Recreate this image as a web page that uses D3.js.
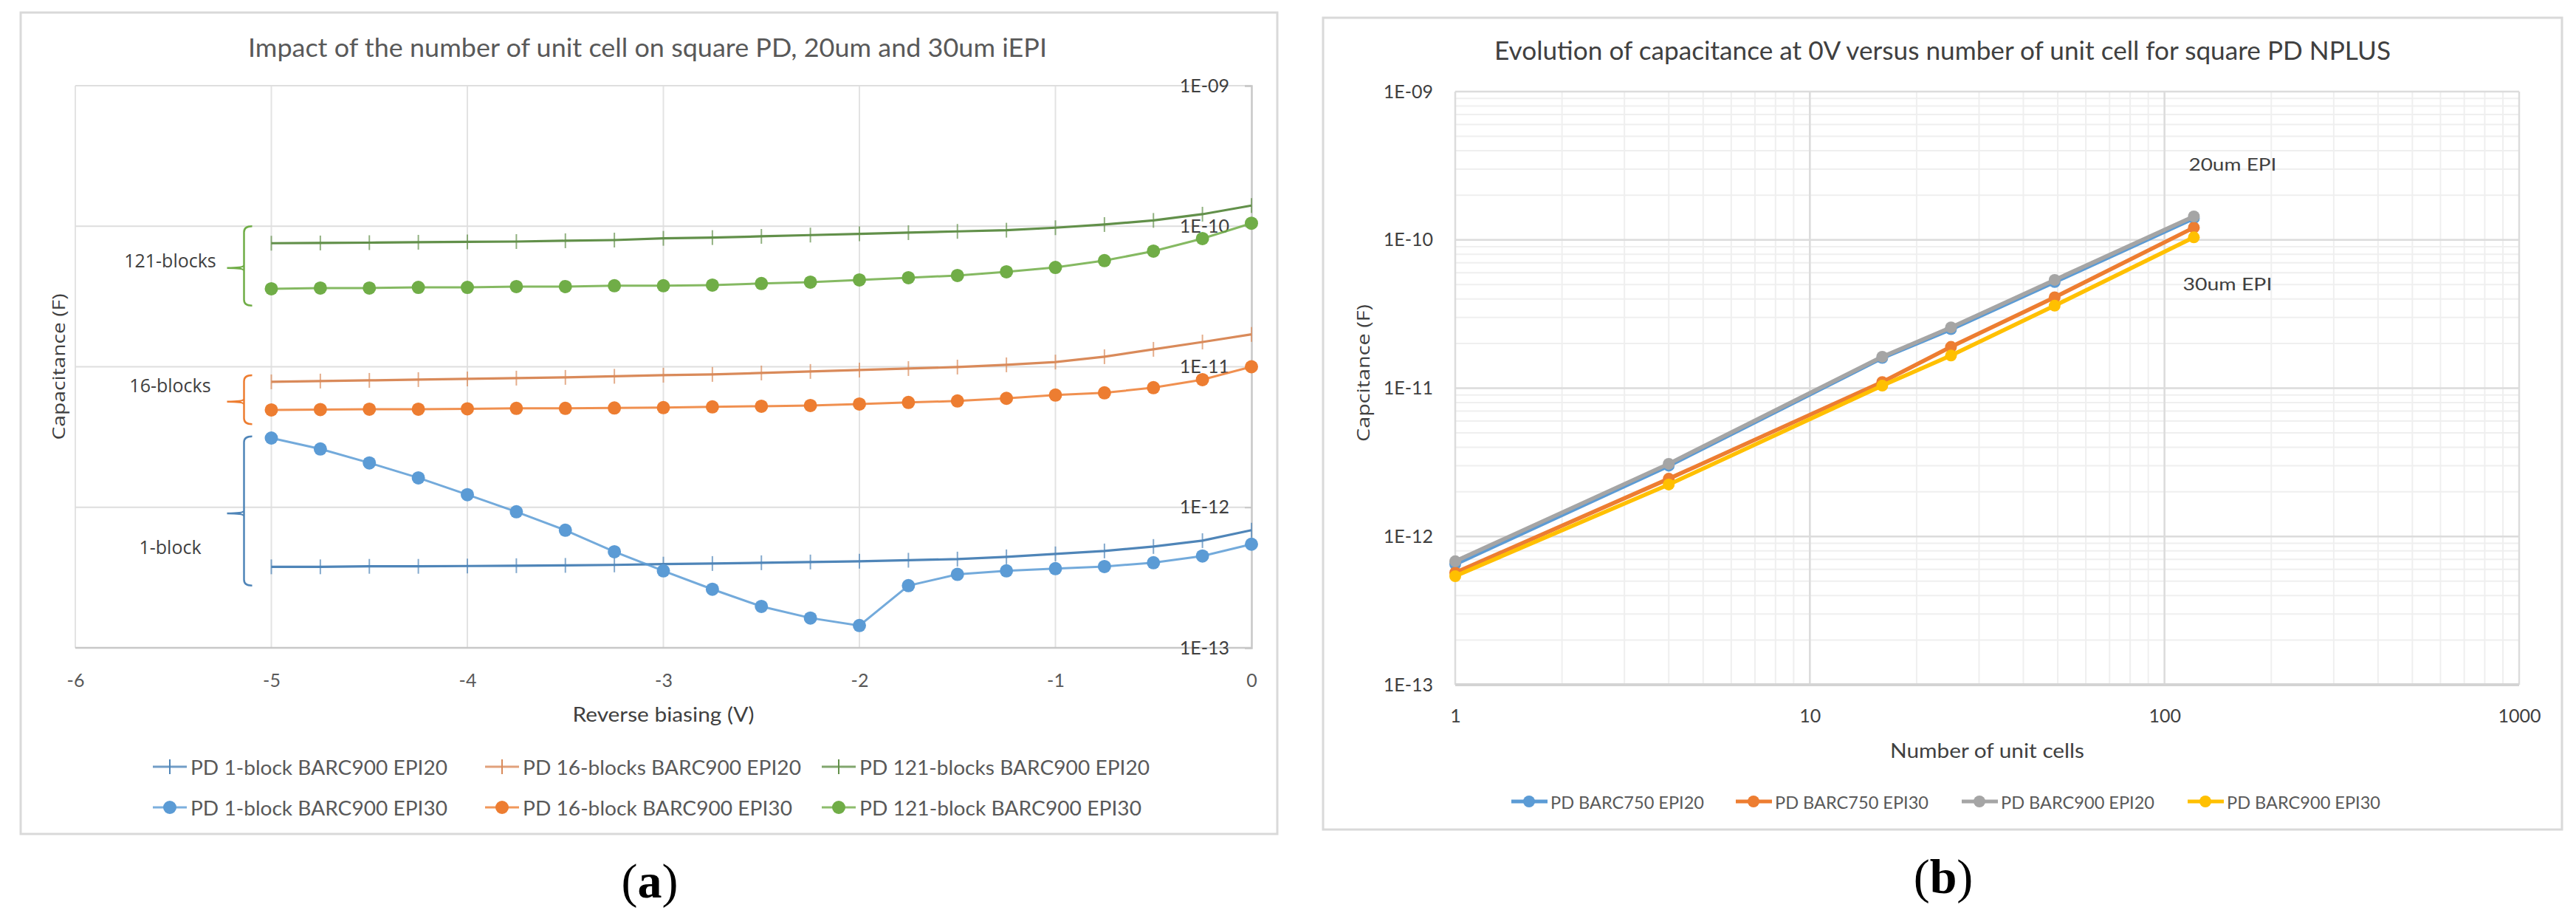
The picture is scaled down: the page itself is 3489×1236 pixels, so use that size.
<!DOCTYPE html>
<html>
<head>
<meta charset="utf-8">
<script src="https://cdn.jsdelivr.net/npm/d3@7"></script>
<style>
body { margin: 0; background: #fff; }
</style>
</head>
<body>
<script>
var width = 3489;
var height = 1236;

// ---- (a) capacitance versus reverse bias ----
var biasV = [-5, -4.75, -4.5, -4.25, -4, -3.75, -3.5, -3.25, -3, -2.75, -2.5,
             -2.25, -2, -1.75, -1.5, -1.25, -1, -0.75, -0.5, -0.25, 0];

var cap1Epi20 = [3.77e-13, 3.77e-13, 3.80e-13, 3.80e-13, 3.82e-13, 3.84e-13, 3.86e-13, 3.89e-13,
                 3.94e-13, 3.98e-13, 4.03e-13, 4.08e-13, 4.13e-13, 4.20e-13, 4.28e-13, 4.44e-13,
                 4.66e-13, 4.89e-13, 5.26e-13, 5.79e-13, 6.87e-13];
var cap1Epi30 = [3.11e-12, 2.60e-12, 2.07e-12, 1.62e-12, 1.23e-12, 9.29e-13, 6.87e-13, 4.83e-13,
                 3.53e-13, 2.61e-13, 1.97e-13, 1.63e-13, 1.44e-13, 2.77e-13, 3.33e-13, 3.53e-13,
                 3.66e-13, 3.79e-13, 4.03e-13, 4.50e-13, 5.46e-13];
var cap16Epi20 = [7.81e-12, 7.91e-12, 8.00e-12, 8.10e-12, 8.20e-12, 8.30e-12, 8.40e-12, 8.55e-12,
                  8.71e-12, 8.82e-12, 9.03e-12, 9.26e-12, 9.48e-12, 9.71e-12, 9.95e-12, 1.032e-11,
                  1.08e-11, 1.179e-11, 1.33e-11, 1.50e-11, 1.70e-11];
var cap16Epi30 = [4.93e-12, 4.96e-12, 4.99e-12, 4.99e-12, 5.02e-12, 5.06e-12, 5.06e-12, 5.09e-12,
                  5.12e-12, 5.18e-12, 5.24e-12, 5.30e-12, 5.43e-12, 5.57e-12, 5.71e-12, 5.96e-12,
                  6.29e-12, 6.52e-12, 7.10e-12, 8.10e-12, 1.0e-11];
var cap121Epi20 = [7.57e-11, 7.60e-11, 7.64e-11, 7.69e-11, 7.74e-11, 7.78e-11, 7.88e-11, 7.97e-11,
                   8.20e-11, 8.30e-11, 8.47e-11, 8.65e-11, 8.82e-11, 9.00e-11, 9.19e-11, 9.37e-11,
                   9.76e-11, 1.028e-10, 1.10e-10, 1.218e-10, 1.403e-10];
var cap121Epi30 = [3.59e-11, 3.63e-11, 3.63e-11, 3.67e-11, 3.67e-11, 3.72e-11, 3.72e-11, 3.77e-11,
                   3.77e-11, 3.81e-11, 3.91e-11, 4.00e-11, 4.15e-11, 4.30e-11, 4.46e-11, 4.74e-11,
                   5.09e-11, 5.69e-11, 6.65e-11, 8.17e-11, 1.05e-10];

var xTicksA = [-6, -5, -4, -3, -2, -1, 0];
var decadeTicks = [1e-13, 1e-12, 1e-11, 1e-10, 1e-9];

// brace annotations, in capacitance units
var braceNames = ["121-blocks", "16-blocks", "1-block"];
var braceTop = [1e-10, 8.7e-12, 3.2e-12];
var braceMid = [5.04e-11, 5.64e-12, 9.06e-13];
var braceBottom = [2.72e-11, 3.9e-12, 2.77e-13];
var braceLabelAt = [5.75e-11, 7.45e-12, 5.26e-13];

// ---- (b) capacitance at 0V versus number of unit cells ----
var unitCells = [1, 4, 16, 25, 49, 121];
var barc750Epi20 = [6.5e-13, 3.0e-12, 1.6e-11, 2.5e-11, 5.2e-11, 1.4e-10];
var barc750Epi30 = [5.7e-13, 2.45e-12, 1.1e-11, 1.9e-11, 4.1e-11, 1.21e-10];
var barc900Epi20 = [6.8e-13, 3.09e-12, 1.63e-11, 2.57e-11, 5.37e-11, 1.44e-10];
var barc900Epi30 = [5.4e-13, 2.24e-12, 1.04e-11, 1.66e-11, 3.6e-11, 1.04e-10];
var xTicksB = [1, 10, 100, 1000];

var blue = "#5b9bd5", orange = "#ed7d31", gray = "#a5a5a5", yellow = "#ffc000", green = "#70ad47";

var seriesA = [
    {name: "PD 1-block BARC900 EPI20", values: cap1Epi20, color: "#4f85b8", dots: false},
    {name: "PD 16-blocks BARC900 EPI20", values: cap16Epi20, color: "#d98a5a", dots: false},
    {name: "PD 121-blocks BARC900 EPI20", values: cap121Epi20, color: "#62904a", dots: false},
    {name: "PD 1-block BARC900 EPI30", values: cap1Epi30, color: blue, dots: true},
    {name: "PD 16-block BARC900 EPI30", values: cap16Epi30, color: orange, dots: true},
    {name: "PD 121-block BARC900 EPI30", values: cap121Epi30, color: green, dots: true}
];
var braceColors = [green, orange, "#4f85b8"];

var seriesB = [
    {name: "PD BARC750 EPI20", values: barc750Epi20, color: blue},
    {name: "PD BARC750 EPI30", values: barc750Epi30, color: orange},
    {name: "PD BARC900 EPI20", values: barc900Epi20, color: gray},
    {name: "PD BARC900 EPI30", values: barc900Epi30, color: yellow}
];

function sci(d) {
    var e = Math.round(Math.log10(d));
    return "1E" + (e < 0 ? "-" : "+") + String(Math.abs(e)).padStart(2, "0");
}

function fit(sel, w) {
    return sel.attr("textLength", w).attr("lengthAdjust", "spacingAndGlyphs");
}

var svg = d3.select("body")
    .append("svg")
    .attr("width", width)
    .attr("height", height)
    .attr("font-family", "Lato, sans-serif");

svg.append("rect").attr("width", width).attr("height", height).attr("fill", "#fff");

// chart frames
svg.append("rect").attr("x", 28).attr("y", 17).attr("width", 1702).attr("height", 1112)
    .attr("fill", "#fff").attr("stroke", "#d9d9d9").attr("stroke-width", 3);
svg.append("rect").attr("x", 1792).attr("y", 24).attr("width", 1678).attr("height", 1099)
    .attr("fill", "#fff").attr("stroke", "#d9d9d9").attr("stroke-width", 3);

// ================= chart (a) =================
var xA = d3.scaleLinear().domain([-6, 0]).range([102, 1695]);
var yA = d3.scaleLog().domain([1e-13, 1e-9]).range([877, 116]);

var gA = svg.append("g");

gA.append("g").selectAll("line")
    .data(xTicksA.slice(0, -1))
    .enter().append("line")
    .attr("x1", function(d) { return xA(d); })
    .attr("x2", function(d) { return xA(d); })
    .attr("y1", yA(1e-9)).attr("y2", yA(1e-13))
    .attr("stroke", "#e3e3e3").attr("stroke-width", 2);

gA.append("g").selectAll("line")
    .data(decadeTicks.slice(1))
    .enter().append("line")
    .attr("x1", xA(-6)).attr("x2", xA(0))
    .attr("y1", function(d) { return yA(d); })
    .attr("y2", function(d) { return yA(d); })
    .attr("stroke", "#dedede").attr("stroke-width", 2);

// bottom axis
gA.append("line").attr("x1", xA(-6)).attr("x2", xA(0))
    .attr("y1", yA(1e-13)).attr("y2", yA(1e-13))
    .attr("stroke", "#c8c8c8").attr("stroke-width", 2.5);

gA.append("g")
    .attr("transform", "translate(0," + yA(1e-13) + ")")
    .call(d3.axisBottom(xA).tickValues(xTicksA).tickSize(0).tickPadding(35)
        .tickFormat(function(d) { return String(d); }))
    .call(function(g) {
        g.select(".domain").remove();
        g.selectAll("text").attr("font-family", "Lato").attr("font-size", 25).attr("fill", "#595959");
    });

// vertical axis at 0 V
gA.append("g")
    .attr("transform", "translate(" + xA(0) + ",0)")
    .call(d3.axisLeft(yA).tickValues(decadeTicks).tickSize(9).tickPadding(21).tickFormat(sci))
    .call(function(g) {
        g.select(".domain").attr("stroke", "#c8c8c8").attr("stroke-width", 2.5);
        g.selectAll(".tick line").attr("stroke", "#c8c8c8").attr("stroke-width", 2);
        g.selectAll("text").attr("font-family", "Lato").attr("font-size", 25).attr("fill", "#404040");
    });

// series
var lineA = d3.line()
    .x(function(d, i) { return xA(biasV[i]); })
    .y(function(d) { return yA(d); });

seriesA.forEach(function(s) {
    var g = gA.append("g");
    g.append("path")
        .attr("d", lineA(s.values))
        .attr("fill", "none")
        .attr("stroke", s.color)
        .attr("stroke-width", s.dots ? 3 : 3.2)
        .attr("stroke-opacity", s.dots ? 0.85 : 1);
    if (s.dots) {
        g.selectAll("circle").data(s.values).enter().append("circle")
            .attr("cx", function(d, i) { return xA(biasV[i]); })
            .attr("cy", function(d) { return yA(d); })
            .attr("r", 9)
            .attr("fill", s.color);
    } else {
        g.selectAll("line").data(s.values).enter().append("line")
            .attr("x1", function(d, i) { return xA(biasV[i]); })
            .attr("x2", function(d, i) { return xA(biasV[i]); })
            .attr("y1", function(d) { return yA(d) - 10; })
            .attr("y2", function(d) { return yA(d) + 10; })
            .attr("stroke", s.color).attr("stroke-width", 2).attr("stroke-opacity", 0.7);
    }
});

// braces
var braceX = xA(-5) - 37;
braceNames.forEach(function(name, i) {
    var t = yA(braceTop[i]), m = yA(braceMid[i]), b = yA(braceBottom[i]);
    var p = d3.path();
    p.moveTo(braceX + 11, t);
    p.quadraticCurveTo(braceX, t, braceX, t + 8);
    p.lineTo(braceX, m - 4);
    p.quadraticCurveTo(braceX, m, braceX - 23, m);
    p.moveTo(braceX, m + 4);
    p.quadraticCurveTo(braceX, m, braceX - 23, m);
    p.moveTo(braceX, m - 4);
    p.lineTo(braceX, b - 8);
    p.quadraticCurveTo(braceX, b, braceX + 11, b);
    gA.append("path").attr("d", p.toString())
        .attr("fill", "none").attr("stroke", braceColors[i]).attr("stroke-width", 2.5);
    gA.append("text")
        .attr("x", xA(-5) - 137).attr("y", yA(braceLabelAt[i]))
        .attr("text-anchor", "middle").attr("dominant-baseline", "central")
        .attr("font-family", "Open Sans").attr("font-size", 25).attr("fill", "#404040")
        .text(name);
});

// titles
fit(svg.append("text").attr("x", 877).attr("y", 63)
    .attr("text-anchor", "middle").attr("dominant-baseline", "central")
    .attr("font-size", 35).attr("fill", "#595959")
    .text("Impact of the number of unit cell on square PD, 20um and 30um iEPI"), 1082);

fit(svg.append("text").attr("x", (xA(-6) + xA(0)) / 2).attr("y", 966)
    .attr("text-anchor", "middle").attr("dominant-baseline", "central")
    .attr("font-size", 27).attr("fill", "#404040")
    .text("Reverse biasing (V)"), 246);

fit(svg.append("text")
    .attr("transform", "translate(79," + (yA(1e-9) + yA(1e-13)) / 2 + ") rotate(-90)")
    .attr("text-anchor", "middle").attr("dominant-baseline", "central")
    .attr("font-family", "Open Sans").attr("font-size", 23).attr("fill", "#404040")
    .text("Capacitance (F)"), 198);

// legend (a)
var legColX = [207, 657, 1113];
var legRowY = [1038, 1093];
var legWidthA = [348, 377, 393, 348, 365, 382];
seriesA.forEach(function(s, i) {
    var x0 = legColX[i % 3], y0 = legRowY[Math.floor(i / 3)];
    var g = svg.append("g");
    g.append("line").attr("x1", x0).attr("x2", x0 + 46).attr("y1", y0).attr("y2", y0)
        .attr("stroke", s.color).attr("stroke-width", 3).attr("stroke-opacity", 0.8);
    if (s.dots) {
        g.append("circle").attr("cx", x0 + 23).attr("cy", y0).attr("r", 9).attr("fill", s.color);
    } else {
        g.append("line").attr("x1", x0 + 23).attr("x2", x0 + 23).attr("y1", y0 - 10).attr("y2", y0 + 10)
            .attr("stroke", s.color).attr("stroke-width", 2);
    }
    fit(g.append("text").attr("x", x0 + 51).attr("y", y0)
        .attr("dominant-baseline", "central")
        .attr("font-size", 27).attr("fill", "#595959")
        .text(s.name), legWidthA[i]);
});

// ================= chart (b) =================
var xB = d3.scaleLog().domain([1, 1000]).range([1971, 3412]);
var yB = d3.scaleLog().domain([1e-13, 1e-9]).range([927, 124]);

var gB = svg.append("g");

// minor grid
gB.append("g").selectAll("line")
    .data(yB.ticks())
    .enter().append("line")
    .attr("x1", xB(1)).attr("x2", xB(1000))
    .attr("y1", function(d) { return yB(d); })
    .attr("y2", function(d) { return yB(d); })
    .attr("stroke", "#efefef").attr("stroke-width", 2);
gB.append("g").selectAll("line")
    .data(xB.ticks())
    .enter().append("line")
    .attr("x1", function(d) { return xB(d); })
    .attr("x2", function(d) { return xB(d); })
    .attr("y1", yB(1e-9)).attr("y2", yB(1e-13))
    .attr("stroke", "#efefef").attr("stroke-width", 2);
// major grid
gB.append("g").selectAll("line")
    .data(decadeTicks)
    .enter().append("line")
    .attr("x1", xB(1)).attr("x2", xB(1000))
    .attr("y1", function(d) { return yB(d); })
    .attr("y2", function(d) { return yB(d); })
    .attr("stroke", "#dcdcdc").attr("stroke-width", 2.5);
gB.append("g").selectAll("line")
    .data(xTicksB)
    .enter().append("line")
    .attr("x1", function(d) { return xB(d); })
    .attr("x2", function(d) { return xB(d); })
    .attr("y1", yB(1e-9)).attr("y2", yB(1e-13))
    .attr("stroke", "#dcdcdc").attr("stroke-width", 2.5);
gB.append("line").attr("x1", xB(1)).attr("x2", xB(1000))
    .attr("y1", yB(1e-13)).attr("y2", yB(1e-13))
    .attr("stroke", "#d4d4d4").attr("stroke-width", 4);

gB.append("g")
    .attr("transform", "translate(" + xB(1) + ",0)")
    .call(d3.axisLeft(yB).tickValues(decadeTicks).tickSize(0).tickPadding(30).tickFormat(sci))
    .call(function(g) {
        g.select(".domain").remove();
        g.selectAll("text").attr("font-family", "Lato").attr("font-size", 25).attr("fill", "#404040");
    });

gB.append("g")
    .attr("transform", "translate(0," + yB(1e-13) + ")")
    .call(d3.axisBottom(xB).tickValues(xTicksB).tickSize(0).tickPadding(33)
        .tickFormat(function(d) { return String(d); }))
    .call(function(g) {
        g.select(".domain").remove();
        g.selectAll("text").attr("font-family", "Lato").attr("font-size", 25).attr("fill", "#404040");
    });

var lineB = d3.line()
    .x(function(d, i) { return xB(unitCells[i]); })
    .y(function(d) { return yB(d); });

seriesB.forEach(function(s) {
    var g = gB.append("g");
    g.append("path").attr("d", lineB(s.values))
        .attr("fill", "none").attr("stroke", s.color).attr("stroke-width", 5.5);
    g.selectAll("circle").data(s.values).enter().append("circle")
        .attr("cx", function(d, i) { return xB(unitCells[i]); })
        .attr("cy", function(d) { return yB(d); })
        .attr("r", 8).attr("fill", s.color);
});

fit(gB.append("text").attr("x", xB(121) - 7).attr("y", yB(3.25e-10))
    .attr("dominant-baseline", "central").attr("font-size", 24).attr("fill", "#404040")
    .text("20um EPI"), 119);
fit(gB.append("text").attr("x", xB(121) - 15).attr("y", yB(5.07e-11))
    .attr("dominant-baseline", "central").attr("font-size", 24).attr("fill", "#404040")
    .text("30um EPI"), 121);

fit(svg.append("text").attr("x", 2631).attr("y", 67)
    .attr("text-anchor", "middle").attr("dominant-baseline", "central")
    .attr("font-size", 35).attr("fill", "#404040")
    .text("Evolution of capacitance at 0V versus number of unit cell for square PD NPLUS"), 1214);

fit(svg.append("text").attr("x", (xB(1) + xB(1000)) / 2).attr("y", 1015)
    .attr("text-anchor", "middle").attr("dominant-baseline", "central")
    .attr("font-size", 27).attr("fill", "#404040")
    .text("Number of unit cells"), 263);

fit(svg.append("text")
    .attr("transform", "translate(1846,505) rotate(-90)")
    .attr("text-anchor", "middle").attr("dominant-baseline", "central")
    .attr("font-family", "Open Sans").attr("font-size", 23).attr("fill", "#404040")
    .text("Capcitance (F)"), 186);

// legend (b)
var legXB = [2047, 2351, 2657, 2963];
seriesB.forEach(function(s, i) {
    var x0 = legXB[i], y0 = 1085;
    var g = svg.append("g");
    g.append("line").attr("x1", x0).attr("x2", x0 + 49).attr("y1", y0).attr("y2", y0)
        .attr("stroke", s.color).attr("stroke-width", 5);
    g.append("circle").attr("cx", x0 + 24).attr("cy", y0).attr("r", 8).attr("fill", s.color);
    fit(g.append("text").attr("x", x0 + 53).attr("y", y0)
        .attr("dominant-baseline", "central").attr("font-size", 24).attr("fill", "#595959")
        .text(s.name), 208);
});

// panel labels
[["a", 880, 1192], ["b", 2632, 1186]].forEach(function(p) {
    var t = svg.append("text").attr("x", p[1]).attr("y", p[2])
        .attr("text-anchor", "middle").attr("dominant-baseline", "central")
        .attr("font-family", "Liberation Serif, DejaVu Serif, serif")
        .attr("font-size", 66).attr("fill", "#000");
    t.append("tspan").text("(");
    t.append("tspan").attr("font-weight", "bold").text(p[0]);
    t.append("tspan").text(")");
});
</script>
</body>
</html>
